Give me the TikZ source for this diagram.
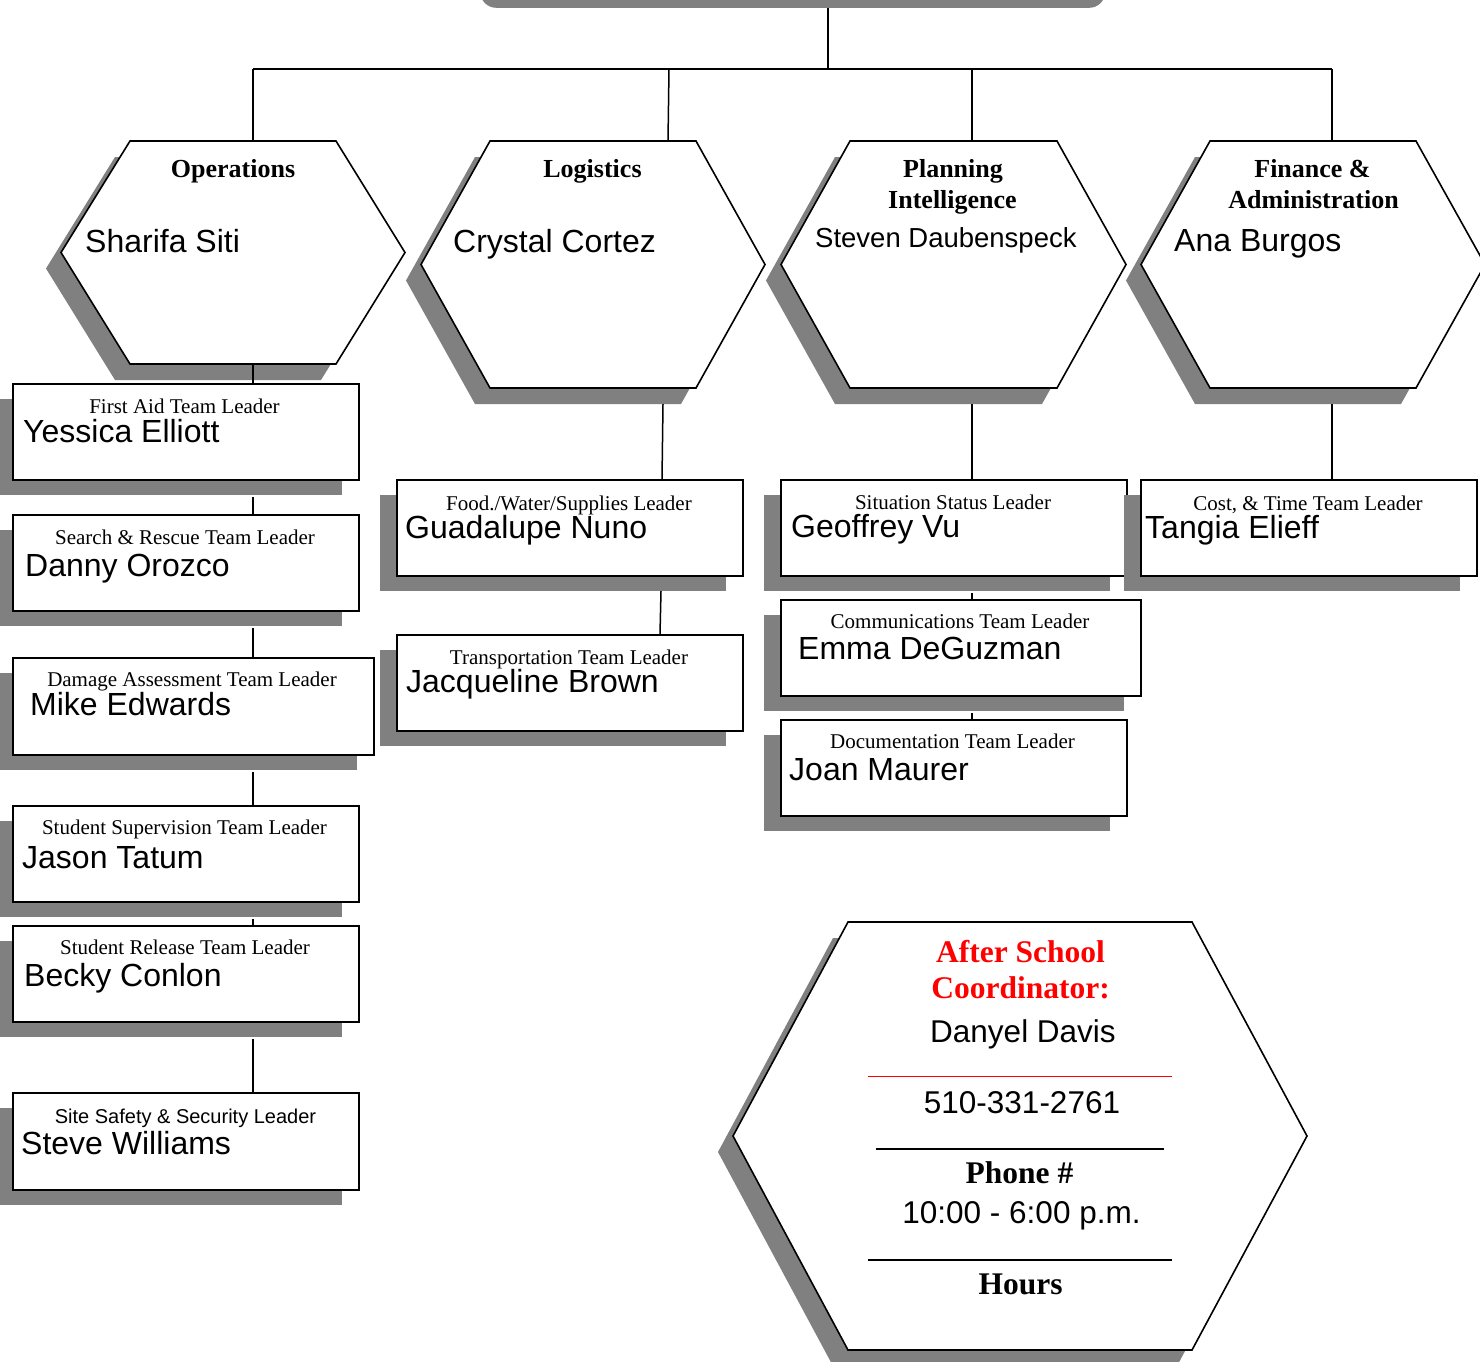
\documentclass[tikz,border=0pt]{standalone}
\usepackage{fontspec}
\setmainfont{Liberation Serif}
\newfontfamily\arialf{Liberation Sans}
\definecolor{shadowgray}{HTML}{808080}
\definecolor{redtxt}{HTML}{FF0000}
\tikzset{
  conn/.style={draw=black, line width=1.5pt},
  boxst/.style={draw=black, line width=1.8pt, fill=white, rectangle, anchor=north west, inner sep=0pt},
  hexst/.style={draw=black, line width=1.6pt, fill=white, line join=miter},
  lab/.style={font=\fontsize{21}{25}\selectfont, inner sep=0pt, anchor=base},
  labsans/.style={font=\arialf\fontsize{20}{24}\selectfont, inner sep=0pt, anchor=base},
  nm/.style={font=\arialf\fontsize{32}{36}\selectfont, anchor=base west, inner sep=0pt},
  nmc/.style={font=\arialf\fontsize{31.5}{36}\selectfont, anchor=base, inner sep=0pt},
  ttl/.style={font=\bfseries\fontsize{26}{31}\selectfont, anchor=base, inner sep=0pt},
  bigttl/.style={font=\bfseries\fontsize{31.5}{37}\selectfont, anchor=base, inner sep=0pt},
}
\newcommand\orgbox[5]{%
  \fill[shadowgray] (#2-16,#3+16) rectangle (#4-16,#5+16);
  \node[boxst, minimum width={(#4-#2)*1pt}, minimum height={(#5-#3)*1pt}] (#1) at (#2,#3) {};
}
\newcommand\orghex[6]{%
  \fill[shadowgray, shift={(-15,16)}] (#2,#4) -- (#3,#4) -- ({#3+#6},{(#4+#5)/2}) -- (#3,#5) -- (#2,#5) -- ({#2-#6},{(#4+#5)/2}) -- cycle;
  \draw[hexst] (#2,#4) -- (#3,#4) -- ({#3+#6},{(#4+#5)/2}) -- (#3,#5) -- (#2,#5) -- ({#2-#6},{(#4+#5)/2}) -- cycle;
}
\begin{document}
\begin{tikzpicture}[x=1pt,y=-1pt]
\useasboundingbox (0,0) rectangle (1480,1361);
\fill[white] (0,0) rectangle (1480,1361);

% named connection points
\coordinate (topc) at (828,8);
\coordinate (busL) at (253,69);
\coordinate (busR) at (1332,69);
\coordinate (opsT) at (253,141);
\coordinate (logT) at (668,141);
\coordinate (plaT) at (972,141);
\coordinate (finT) at (1332,141);
\coordinate (opsB) at (253,364);
\coordinate (logB) at (663,388);
\coordinate (plaB) at (972,388);
\coordinate (finB) at (1332,388);

% top box (only its shadow is visible)
\node[fill=shadowgray, rounded corners=16pt, minimum width=625pt, minimum height=80pt, anchor=south west, inner sep=0pt] (topbox) at (480,8) {};

% top connectors
\draw[conn] (topc) -- (topc |- busL);
\draw[conn] (busL) -- (busR);
\draw[conn] (busL) -- (opsT);
\draw[conn] (669,69) -- (logT);
\draw[conn] (plaT |- busL) -- (plaT);
\draw[conn] (busR) -- (finT);

% hexagons
\orghex{ops}{130}{336}{141}{364}{69}
\orghex{log}{490}{696}{141}{388}{69}
\orghex{pla}{850}{1057}{141}{388}{69}
\orghex{fin}{1210}{1416}{141}{388}{69}

% boxes
\orgbox{firstaid}{12}{383}{358}{479}
\orgbox{search}{12}{514}{358}{610}
\orgbox{damage}{12}{657}{373}{754}
\orgbox{superv}{12}{805}{358}{901}
\orgbox{release}{12}{925}{358}{1021}
\orgbox{site}{12}{1092}{358}{1189}
\orgbox{food}{396}{479}{742}{575}
\orgbox{transp}{396}{634}{742}{730}
\orgbox{situ}{780}{479}{1126}{575}
\orgbox{comms}{780}{599}{1140}{695}
\orgbox{docs}{780}{719}{1126}{815}
\orgbox{cost}{1140}{479}{1476}{575}

% vertical connectors in the gaps
\draw[conn] (opsB) -- (opsB |- firstaid.north);
\draw[conn] (opsB |- firstaid.south) ++(0,16) -- (opsB |- search.north);
\draw[conn] (opsB |- search.south) ++(0,16) -- (opsB |- damage.north);
\draw[conn] (opsB |- damage.south) ++(0,16) -- (opsB |- superv.north);
\draw[conn] (opsB |- superv.south) ++(0,16) -- (opsB |- release.north);
\draw[conn] (opsB |- release.south) ++(0,16) -- (opsB |- site.north);
\draw[conn] (logB) ++(0,16) -- (food.north -| 662,0);
\draw[conn] (661,591) -- (transp.north -| 660,0);
\draw[conn] (plaB) ++(0,16) -- (plaB |- situ.north);
\draw[conn] (plaB |- situ.south) ++(0,16) -- (plaB |- comms.north);
\draw[conn] (plaB |- comms.south) ++(0,16) -- (plaB |- docs.north);
\draw[conn] (finB) ++(0,16) -- (finB |- cost.north);

% hexagon texts
\node[ttl] (opsT1) at (233,177) {Operations};
\node[nm] (opsN) at (85,252) {Sharifa Siti};
\node[ttl] (logT1) at (592.5,177) {Logistics};
\node[nm] (logN) at (453,252) {Crystal Cortez};
\node[ttl] (plaT1) at (953,177) {Planning};
\node[ttl] (plaT2) at (952.5,208) {Intelligence};
\node[font=\arialf\fontsize{27.5}{32}\selectfont, anchor=base west, inner sep=0pt] (plaN) at (815,247) {Steven Daubenspeck};
\node[ttl] (finT1) at (1312.5,177) {Finance \&};
\node[ttl] (finT2) at (1313.5,208) {Administration};
\node[nm] (finN) at (1174,251) {Ana Burgos};

% box texts
\node[lab] at (184.5,413) {First Aid Team Leader};
\node[nm] at (23,442) {Yessica Elliott};
\node[lab] at (185,544) {Search \& Rescue Team Leader};
\node[nm] at (25,576) {Danny Orozco};
\node[lab] at (192,686) {Damage Assessment Team Leader};
\node[nm] at (30,715) {Mike Edwards};
\node[lab] at (184.5,834) {Student Supervision Team Leader};
\node[nm] at (22,868) {Jason Tatum};
\node[lab] at (185,954) {Student Release Team Leader};
\node[nm] at (24,986) {Becky Conlon};
\node[labsans] at (185.5,1123) {Site Safety \& Security Leader};
\node[nm] at (21,1154) {Steve Williams};
\node[lab] at (569,510) {Food./Water/Supplies Leader};
\node[nm] at (405,538) {Guadalupe Nuno};
\node[lab] at (569,664) {Transportation Team Leader};
\node[nm] at (406,692) {Jacqueline Brown};
\node[lab] at (953,509) {Situation Status Leader};
\node[nm] at (791,537) {Geoffrey Vu};
\node[lab] at (960,628) {Communications Team Leader};
\node[nm] at (798,659) {Emma DeGuzman};
\node[lab] at (952.5,748) {Documentation Team Leader};
\node[nm] at (789,780) {Joan Maurer};
\node[lab] at (1308,510) {Cost, \& Time Team Leader};
\node[nm] at (1145,538) {Tangia Elieff};

% after school hexagon
\orghex{after}{848}{1192}{922}{1350}{115}
\node[bigttl, text=redtxt] (as1) at (1020.5,962) {After School};
\node[bigttl, text=redtxt] (as2) at (1020.5,998) {Coordinator:};
\node[nmc] (as3) at (1023,1042) {Danyel Davis};
\draw[redtxt, line width=1pt] (868,1076) coordinate (rl1) -- (1172,1076) coordinate (rl2);
\node[nmc] (as4) at (1022,1113) {510-331-2761};
\draw[black, line width=1.2pt] (876,1149) coordinate (bl1) -- (1164,1149) coordinate (bl2);
\node[bigttl] (as5) at (1019.5,1183) {Phone \#};
\node[nmc] (as6) at (1021.5,1223) {10:00 - 6:00 p.m.};
\draw[black, line width=1.2pt] (868,1260) coordinate (bl3) -- (1172,1260) coordinate (bl4);
\node[bigttl] (as7) at (1020.5,1294) {Hours};
\end{tikzpicture}
\end{document}
